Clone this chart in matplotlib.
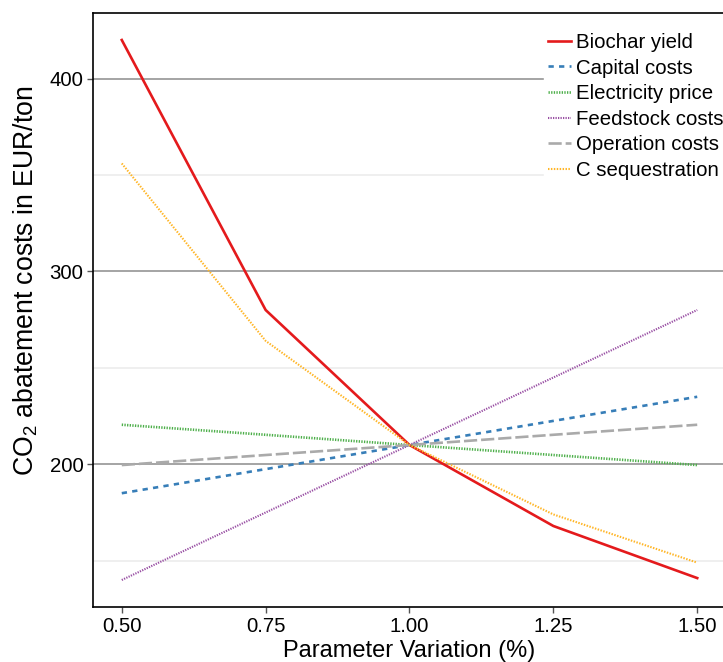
import numpy as np
import matplotlib
matplotlib.use('Agg')
import matplotlib.pyplot as plt

plt.rcParams['font.family'] = ['Liberation Sans', 'DejaVu Sans']
plt.rcParams['mathtext.fontset'] = 'custom'
plt.rcParams['mathtext.rm'] = 'Liberation Sans'
plt.rcParams['mathtext.default'] = 'regular'

# parameter variation
variation = [0.50, 0.75, 1.00, 1.25, 1.50]

biochar_yield = [420, 280, 210, 168, 141]
capital_costs = [185, 197.5, 210, 222.5, 235]
electricity_price = [220.5, 215.3, 210, 204.8, 199.6]
feedstock_costs = [140, 175, 210, 245, 280]
operation_costs = [199.6, 204.8, 210, 215.3, 220.5]
c_sequestration = [356, 264, 210, 174, 149]

x_ticks = [0.50, 0.75, 1.00, 1.25, 1.50]
y_ticks = [200, 300, 400]

fig = plt.figure(figsize=(7.23, 6.62), dpi=100)
ax = fig.add_axes([93/723, 55/662, 633/723, 594/662])

ax.plot(variation, biochar_yield, color='#E41A1C', lw=1.9, ls='-', label='Biochar yield')
ax.plot(variation, capital_costs, color='#377EB8', lw=1.9, ls=(0, (2, 2)), label='Capital costs')
ax.plot(variation, electricity_price, color='#4DAF4A', lw=1.9, ls=(0, (0.5, 0.5)), label='Electricity price')
ax.plot(variation, feedstock_costs, color='#984EA3', lw=1.5, ls=(0, (0.6, 0.6)), label='Feedstock costs')
ax.plot(variation, operation_costs, color='#AAAAAA', lw=1.9, ls=(0, (5, 1.5)), label='Operation costs')
ax.plot(variation, c_sequestration, color='#FFB627', lw=1.5, ls=(0, (0.7, 0.7)), label='C sequestration')

ax.set_xlim(0.45, 1.55)
ax.set_ylim(126, 434)
ax.set_xticks(x_ticks)
ax.set_xticklabels(['%.2f' % t for t in x_ticks])
ax.set_yticks(y_ticks)
ax.set_yticks([150, 250, 350], minor=True)

ax.grid(axis='y', which='major', color='#8C8C8C', lw=1.1)
ax.grid(axis='y', which='minor', color='#EBEBEB', lw=1.1)
ax.grid(axis='x', visible=False)
ax.set_axisbelow(True)

ax.tick_params(axis='both', which='major', length=4, width=1, color='#555555',
               labelsize=14.7, labelcolor='black', pad=3)
ax.tick_params(axis='y', which='minor', length=0)
for s in ax.spines.values():
    s.set_linewidth(1.2)
    s.set_color('black')

ax.set_xlabel('Parameter Variation (%)', fontsize=17, labelpad=3)
ax.set_ylabel('CO$_2$ abatement costs in EUR/ton', fontsize=19.2)
ax.yaxis.set_label_coords(-0.084, 0.549)

leg = ax.legend(loc='upper left', bbox_to_anchor=(544/723, 1 - 29/662),
                bbox_transform=fig.transFigure, frameon=True, fontsize=14.7,
                handlelength=1.1, handletextpad=0.25, labelspacing=0.32,
                borderpad=0.2, borderaxespad=0)
leg.get_frame().set_facecolor('white')
leg.get_frame().set_edgecolor('white')
leg.get_frame().set_alpha(1)

fig.savefig('out.png', dpi=100)
